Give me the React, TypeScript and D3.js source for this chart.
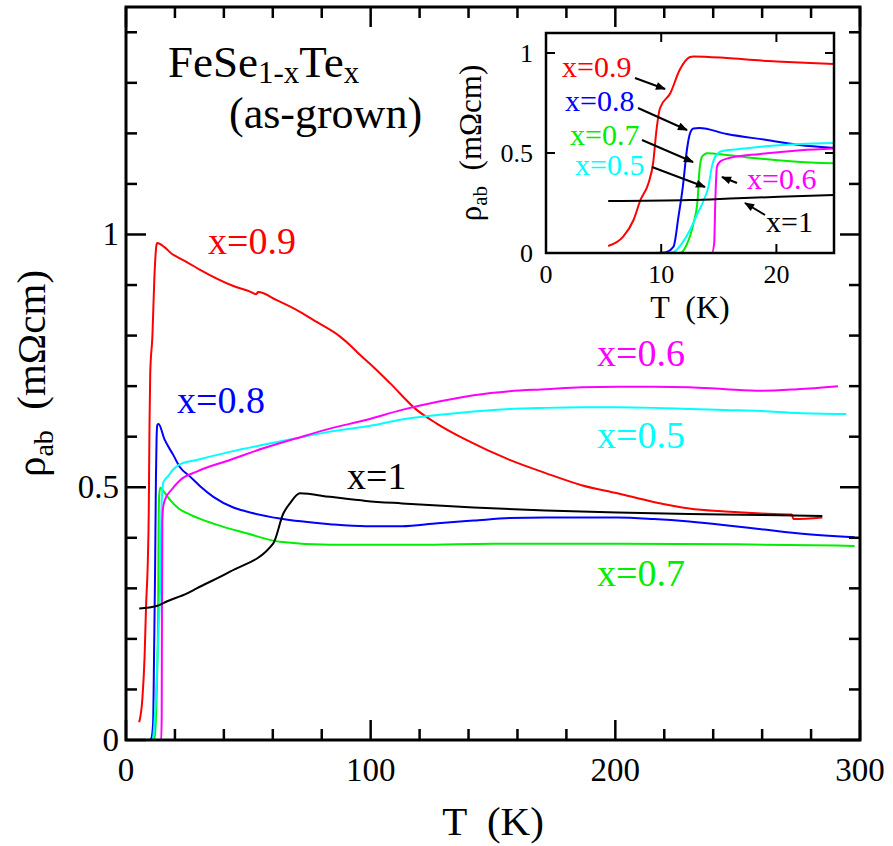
import React from "react";
import * as d3 from "d3";

// ---------- data (T in K, rho_ab in mOhm cm) ----------
const T09 = [5.4,6.7,7.6,8.2,8.9,9.3,9.6,9.9,10.8,11.6,12.5,12.8,15.7,18.7,20,25,30.3,43.9,50.7,53.2,54,61.6,71.1,77.9,87.5,91.6,95.6,101.1,107.9,118.8,127,139.3,156.8,171.5,186.2,200.9,215.6,230.2,245,259.6,272.1,272.8,284.6];
const R09 = [0.035,0.082,0.165,0.265,0.35,0.45,0.62,0.725,0.80,0.915,0.98,0.983,0.975,0.962,0.958,0.945,0.930,0.898,0.887,0.882,0.886,0.870,0.847,0.827,0.798,0.781,0.762,0.738,0.706,0.653,0.626,0.593,0.554,0.528,0.504,0.488,0.471,0.458,0.452,0.448,0.446,0.437,0.44];

const T08 = [9.5,10.35,11.07,11.5,11.88,12.23,12.5,12.8,13.3,15.7,19.3,22,26.2,30.3,35.7,43.9,49.3,62.9,83.4,98,112.8,127.4,142.1,156.8,171.5,186.2,200.9,215.6,230.2,245,259.6,274.3,297.8];
const R08 = [0,0.003,0.032,0.182,0.332,0.515,0.598,0.623,0.625,0.595,0.564,0.54,0.521,0.502,0.481,0.46,0.452,0.438,0.427,0.423,0.423,0.429,0.434,0.439,0.44,0.44,0.44,0.437,0.432,0.425,0.417,0.409,0.401];

const T05 = [8.5,10.5,11.07,11.8,12.5,13.16,13.7,14.1,14.4,14.7,15.3,17.2,19.3,22,28.9,42.5,56.1,69.8,83.4,98,112.8,127.4,142.1,156.8,171.5,186.2,200.9,215.6,230.2,245,259.6,274.3,294.4];
const R05 = [0,0,0.005,0.048,0.115,0.198,0.265,0.332,0.432,0.482,0.51,0.522,0.535,0.545,0.554,0.570,0.584,0.597,0.61,0.62,0.634,0.643,0.65,0.655,0.657,0.658,0.658,0.657,0.655,0.653,0.651,0.647,0.645];

const T06 = [7.9,14.4,14.6,14.7,14.84,15.13,15.9,18.6,22.1,28.9,42.5,56.1,69.8,83.4,98,112.8,127.4,142.1,156.8,171.5,186.2,200.9,215.6,230.2,245,259.6,274.3,291];
const R06 = [0,0,0.05,0.265,0.432,0.458,0.475,0.495,0.514,0.531,0.554,0.577,0.597,0.616,0.633,0.653,0.669,0.682,0.69,0.694,0.698,0.699,0.699,0.698,0.694,0.691,0.694,0.7];

const T07 = [5.3,11.65,12.2,12.8,13.16,13.3,13.54,14.0,15.7,18,21.5,26.2,35.7,49.3,62.9,83.4,120,150,200,250,297.8];
const R07 = [0,0,0.04,0.148,0.265,0.398,0.482,0.499,0.49,0.475,0.458,0.446,0.428,0.409,0.392,0.386,0.386,0.388,0.388,0.387,0.384];

const T10 = [5.4,12.5,16.6,25,28.9,42.5,60.2,64.3,67,71.1,83.4,98,112.8,142.1,171.5,200.9,230.2,259.6,284.6];
const R10 = [0.26,0.265,0.274,0.29,0.30,0.333,0.389,0.448,0.468,0.488,0.481,0.473,0.468,0.46,0.454,0.45,0.447,0.445,0.443];

const seriesNames = ["x=0.9", "x=0.8", "x=0.7", "x=0.5", "x=0.6", "x=1"];
const seriesColors = ["#ff0000", "#0000ff", "#00ee00", "#00ffff", "#ff00ff", "#000000"];
const seriesT = [T09, T08, T07, T05, T06, T10];
const seriesR = [R09, R08, R07, R05, R06, R10];

const xMajor = [0, 100, 200, 300];
const xMinor = d3.range(0, 301, 20);
const yMajor = [0, 0.5, 1];
const yMinor = d3.range(0, 1.45, 0.1);
const ixMajor = [0, 10, 20];
const iyMajor = [0, 0.5, 1];

const FONT = "'Liberation Serif', 'Times New Roman', Times, serif";

export default function App() {
  const W = 893, H = 846;
  const x = d3.scaleLinear().domain([0, 300]).range([126, 860]);
  const y = d3.scaleLinear().domain([0, 1.45]).range([740, 7]);
  const xi = d3.scaleLinear().domain([0, 25]).range([546, 834]);
  const yi = d3.scaleLinear().domain([0, 1.1]).range([253, 33]);

  const mkLine = (sx: any, sy: any) =>
    d3.line<[number, number]>().x((d) => sx(d[0])).y((d) => sy(d[1])).curve(d3.curveMonotoneX);
  const mainLine = mkLine(x, y);
  const insetLine = mkLine(xi, yi);
  const pts = (i: number) => seriesT[i].map((t, k) => [t, seriesR[i][k]] as [number, number]);

  const [x0, x1] = x.range();
  const [y0, y1] = y.range();
  const [ix0, ix1] = xi.range();
  const [iy0, iy1] = yi.range();

  const fmt = (v: number) => String(v);

  const mainTicks: any[] = [];
  xMinor.forEach((t, k) => {
    const len = xMajor.includes(t) ? 20 : 11;
    mainTicks.push(<line key={"xb" + k} x1={x(t)} x2={x(t)} y1={y0} y2={y0 - len} />);
    mainTicks.push(<line key={"xt" + k} x1={x(t)} x2={x(t)} y1={y1} y2={y1 + len} />);
  });
  yMinor.forEach((v, k) => {
    const major = yMajor.some((m) => Math.abs(m - v) < 1e-6);
    const len = major ? 20 : 11;
    mainTicks.push(<line key={"yl" + k} x1={x0} x2={x0 + len} y1={y(v)} y2={y(v)} />);
    mainTicks.push(<line key={"yr" + k} x1={x1} x2={x1 - len} y1={y(v)} y2={y(v)} />);
  });

  const insetTicks: any[] = [];
  ixMajor.forEach((t, k) => {
    insetTicks.push(<line key={"ixb" + k} x1={xi(t)} x2={xi(t)} y1={iy0} y2={iy0 - 9} />);
    insetTicks.push(<line key={"ixt" + k} x1={xi(t)} x2={xi(t)} y1={iy1} y2={iy1 + 9} />);
  });
  iyMajor.forEach((v, k) => {
    insetTicks.push(<line key={"iyl" + k} x1={ix0} x2={ix0 + 9} y1={yi(v)} y2={yi(v)} />);
    insetTicks.push(<line key={"iyr" + k} x1={ix1} x2={ix1 - 9} y1={yi(v)} y2={yi(v)} />);
  });

  const mainLabels = [
    { i: 0, x: 208, y: 254 },
    { i: 1, x: 177, y: 413 },
    { i: 2, x: 597, y: 586 },
    { i: 3, x: 597, y: 448 },
    { i: 4, x: 597, y: 366 },
    { i: 5, x: 347, y: 489 },
  ];
  const insetLabels = [
    { i: 0, x: 562, y: 77 },
    { i: 1, x: 565, y: 111 },
    { i: 2, x: 570, y: 145 },
    { i: 3, x: 575, y: 175 },
    { i: 4, x: 747, y: 189 },
    { i: 5, x: 766, y: 232 },
  ];
  const arrows = [
    [635, 78, 665, 89],
    [638, 108, 687, 130],
    [642, 140, 693, 162],
    [652, 167, 705, 187],
    [737, 183, 722, 177],
    [765, 215, 745, 203],
  ];

  return (
    <svg width={W} height={H} style={{ position: "absolute", left: 0, top: 0, background: "#fff" }} fontFamily={FONT}>
      <defs>
        <clipPath id="mainClip">
          <rect x={x0} y={y1} width={x1 - x0} height={y0 - y1} />
        </clipPath>
        <clipPath id="insetClip">
          <rect x={ix0} y={iy1} width={ix1 - ix0} height={iy0 - iy1} />
        </clipPath>
        <marker id="ah" viewBox="0 0 10 8" refX="9" refY="4" markerWidth="11" markerHeight="8" markerUnits="userSpaceOnUse" orient="auto">
          <path d="M0,0 L10,4 L0,8 Z" fill="#000" />
        </marker>
      </defs>
      <rect x={0} y={0} width={W} height={H} fill="#fff" />

      <g clipPath="url(#mainClip)">
        {seriesT.map((_, i) => (
          <path key={i} d={mainLine(pts(i)) || ""} fill="none" stroke={seriesColors[i]} strokeWidth={2} strokeLinejoin="round" />
        ))}
      </g>

      <g stroke="#000" strokeWidth={2.5}>{mainTicks}</g>
      <rect x={x0} y={y1} width={x1 - x0} height={y0 - y1} fill="none" stroke="#000" strokeWidth={3} />

      <g fontSize={33} fill="#000">
        {xMajor.map((t) => (
          <text key={"xl" + t} x={x(t)} y={781} textAnchor="middle">{fmt(t)}</text>
        ))}
        {yMajor.map((v) => (
          <text key={"yl" + v} x={119} y={y(v) + 11} textAnchor="end">{fmt(v)}</text>
        ))}
      </g>

      <text x={(x0 + x1) / 2} y={835} fontSize={41} textAnchor="middle" style={{ whiteSpace: "pre" }}>T  (K)</text>
      <text transform={`translate(45, ${(y0 + y1) / 2}) rotate(-90)`} fontSize={41} textAnchor="middle" style={{ whiteSpace: "pre" }}>
        ρ<tspan fontSize={28} dy={8}>ab</tspan><tspan dy={-8}>  (mΩcm)</tspan>
      </text>

      <text x={168} y={77} fontSize={45} style={{ whiteSpace: "pre" }}>
        FeSe<tspan fontSize={31} dy={6}>1-x</tspan><tspan dy={-6}>Te</tspan><tspan fontSize={31} dy={6}>x</tspan>
      </text>
      <text x={229} y={128} fontSize={44}>(as-grown)</text>

      {mainLabels.map((l) => (
        <text key={"ml" + l.i} x={l.x} y={l.y} fontSize={38} fill={seriesColors[l.i]}>{seriesNames[l.i]}</text>
      ))}

      <rect x={ix0} y={iy1} width={ix1 - ix0} height={iy0 - iy1} fill="#fff" />
      <g clipPath="url(#insetClip)">
        {seriesT.map((_, i) => (
          <path key={"in" + i} d={insetLine(pts(i)) || ""} fill="none" stroke={seriesColors[i]} strokeWidth={2} strokeLinejoin="round" />
        ))}
      </g>
      <g stroke="#000" strokeWidth={2}>{insetTicks}</g>
      <rect x={ix0} y={iy1} width={ix1 - ix0} height={iy0 - iy1} fill="none" stroke="#000" strokeWidth={2.5} />
      <g fontSize={26} fill="#000">
        {ixMajor.map((t) => (
          <text key={"ixl" + t} x={xi(t)} y={283} textAnchor="middle">{fmt(t)}</text>
        ))}
        {iyMajor.map((v) => (
          <text key={"iyl" + v} x={533} y={yi(v) + 9} textAnchor="end">{fmt(v)}</text>
        ))}
      </g>
      <text x={(ix0 + ix1) / 2} y={318} fontSize={32} textAnchor="middle" style={{ whiteSpace: "pre" }}>T  (K)</text>
      <text transform={`translate(481, ${(iy0 + iy1) / 2}) rotate(-90)`} fontSize={31} textAnchor="middle" style={{ whiteSpace: "pre" }}>
        ρ<tspan fontSize={21} dy={6}>ab</tspan><tspan dy={-6}>  (mΩcm)</tspan>
      </text>
      {insetLabels.map((l) => (
        <text key={"il" + l.i} x={l.x} y={l.y} fontSize={30} fill={seriesColors[l.i]}>{seriesNames[l.i]}</text>
      ))}
      <g stroke="#000" strokeWidth={2}>
        {arrows.map((a, k) => (
          <line key={"ar" + k} x1={a[0]} y1={a[1]} x2={a[2]} y2={a[3]} markerEnd="url(#ah)" />
        ))}
      </g>
    </svg>
  );
}
